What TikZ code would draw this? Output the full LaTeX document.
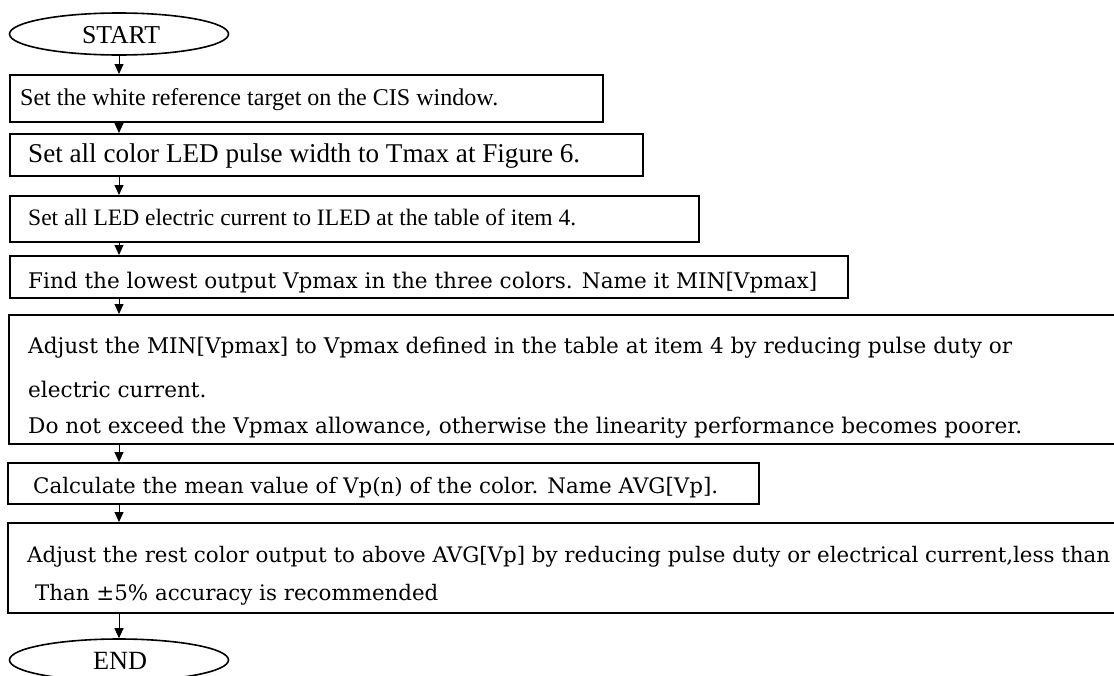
\documentclass[tikz,border=0pt]{standalone}
\usepackage{fontspec}
\setmainfont{Liberation Serif}
\newfontfamily\boxfont{DejaVu Serif}
\usetikzlibrary{arrows.meta,shapes.geometric}

\newsavebox\measbox
\newlength\measlen
\newcommand\fitsize[4]{%
  \sbox\measbox{#2\fontsize{10pt}{12pt}\selectfont #4}%
  \setlength\measlen{\wd\measbox}%
  \pgfmathsetmacro#1{10*#3/\measlen}}

\tikzset{
  box/.style={draw, line width=1.8pt, rectangle, inner sep=0pt, anchor=north west},
  term/.style={draw, line width=1.6pt, ellipse, inner sep=0pt, minimum width=219pt, minimum height=42pt},
  txt/.style={anchor=base west, inner sep=0pt},
  arr/.style={line width=1pt, -{Triangle[width=9pt,length=10pt]}},
}

\begin{document}
\fitsize\sizeStart{\rmfamily}{78}{START}%
\fitsize\sizeEnd{\rmfamily}{54}{END}%
\fitsize\sizeA{\rmfamily}{478}{Set the white reference target on the CIS window.}%
\fitsize\sizeB{\rmfamily}{552}{Set all color LED pulse width to Tmax at Figure 6.}%
\fitsize\sizeC{\rmfamily}{548}{Set all LED electric current to ILED at the table of item 4.}%
\fitsize\sizeD{\boxfont}{789}{Find the lowest output Vpmax in the three colors. Name it MIN[Vpmax]}%
\fitsize\sizeE{\boxfont}{984}{Adjust the MIN[Vpmax] to Vpmax defined in the table at item 4 by reducing pulse duty or}%
\fitsize\sizeF{\boxfont}{685}{Calculate the mean value of Vp(n) of the color. Name AVG[Vp].}%
\fitsize\sizeG{\boxfont}{1083}{Adjust the rest color output to above AVG[Vp] by reducing pulse duty or electrical current,less than}%
\begin{tikzpicture}[x=1pt,y=-1pt]
\useasboundingbox (0,0) rectangle (1114,675);
\clip (0,0) rectangle (1114,675);
\fill[white] (0,0) rectangle (1114,675);

% terminals
\node[term] (s) at (119,34) {};
\node[anchor=base, inner sep=0pt, font=\fontsize{\sizeStart}{\sizeStart}\selectfont] (st) at (121,43) {START};
\node[term] (e) at (119,660) {};
\node[anchor=base, inner sep=0pt, font=\fontsize{\sizeEnd}{\sizeEnd}\selectfont] (et) at (120,669) {END};

% boxes
\node[box, minimum width=593pt, minimum height=47pt] (b1) at (9,74) {};
\node[box, minimum width=633pt, minimum height=42pt] (b2) at (9,133) {};
\node[box, minimum width=689pt, minimum height=46pt] (b3) at (9,195) {};
\node[box, minimum width=838pt, minimum height=42pt] (b4) at (9,255) {};
\node[box, minimum width=1130pt, minimum height=129pt] (b5) at (8,314) {};
\node[box, minimum width=751pt, minimum height=41pt] (b6) at (7,462) {};
\node[box, minimum width=1130pt, minimum height=90pt] (b7) at (7,522) {};

% texts
\node[txt, font=\fontsize{\sizeA}{\sizeA}\selectfont] (t1) at (20,105) {Set the white reference target on the CIS window.};
\node[txt, font=\fontsize{\sizeB}{\sizeB}\selectfont] (t2) at (28,162) {Set all color LED pulse width to Tmax at Figure 6.};
\node[txt, font=\fontsize{\sizeC}{\sizeC}\selectfont] (t3) at (28,225) {Set all LED electric current to ILED at the table of item 4.};
\node[txt, font=\boxfont\fontsize{\sizeD}{\sizeD}\selectfont] (t4) at (28,288) {Find the lowest output Vpmax in the three colors. Name it MIN[Vpmax]};
\node[txt, font=\boxfont\fontsize{\sizeE}{\sizeE}\selectfont] (t5a) at (28,353) {Adjust the MIN[Vpmax] to Vpmax defined in the table at item 4 by reducing pulse duty or};
\node[txt, font=\boxfont\fontsize{\sizeE}{\sizeE}\selectfont] (t5b) at (28,397) {electric current.};
\node[txt, font=\boxfont\fontsize{\sizeE}{\sizeE}\selectfont] (t5c) at (28,433) {Do not exceed the Vpmax allowance, otherwise the linearity performance becomes poorer.};
\node[txt, font=\boxfont\fontsize{\sizeF}{\sizeF}\selectfont] (t6) at (33,493) {Calculate the mean value of Vp(n) of the color. Name AVG[Vp].};
\node[txt, font=\boxfont\fontsize{\sizeG}{\sizeG}\selectfont] (t7a) at (27,562) {Adjust the rest color output to above AVG[Vp] by reducing pulse duty or electrical current,less than};
\node[txt, font=\boxfont\fontsize{\sizeG}{\sizeG}\selectfont] (t7b) at (35,600) {Than ±5\% accuracy is recommended};

% connectors
\coordinate (ax) at (119,0);
\draw[arr] (s.south) -- (s.south |- b1.north);
\draw[arr] (ax |- b1.south) -- (ax |- b2.north);
\draw[arr] (ax |- b2.south) -- (ax |- b3.north);
\draw[arr] (ax |- b3.south) -- (ax |- b4.north);
\draw[arr] (ax |- b4.south) -- (ax |- b5.north);
\draw[arr] (ax |- b5.south) -- (ax |- b6.north);
\draw[arr] (ax |- b6.south) -- (ax |- b7.north);
\draw[arr] (ax |- b7.south) -- (e.north);
\end{tikzpicture}
\end{document}
